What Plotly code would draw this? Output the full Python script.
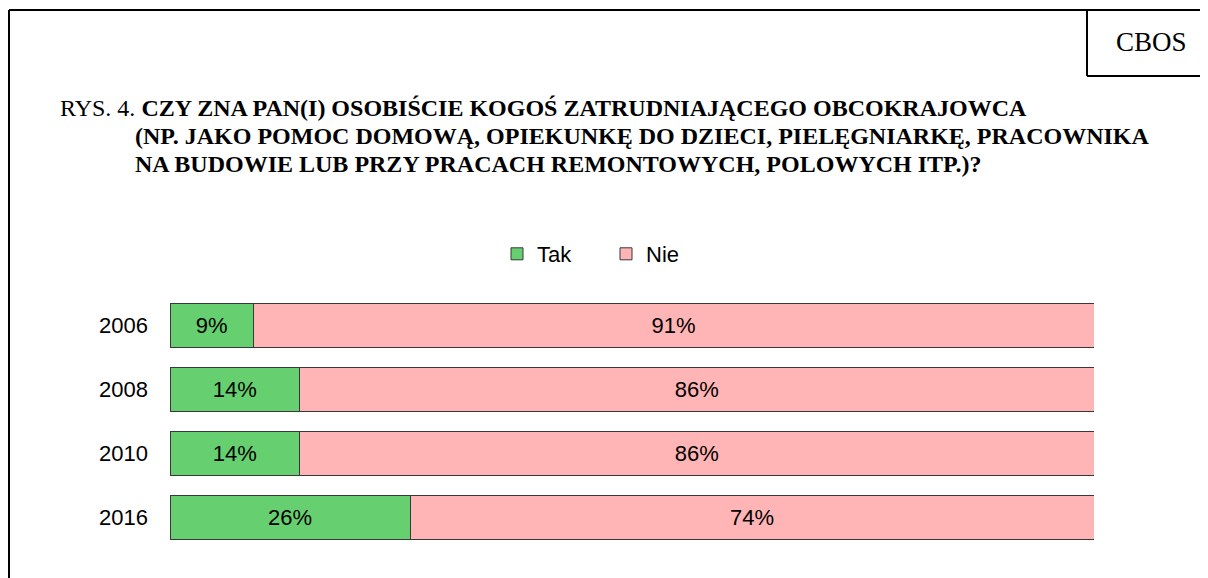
import plotly.graph_objects as go

years = ["2006", "2008", "2010", "2016"]
tak = [9, 14, 14, 26]
nie = [91, 86, 86, 74]
series_names = ["Tak", "Nie"]
colors = ["#66CF70", "#FFB5B5"]

OFF = 8  # page body margin
W, H = 1208 - OFF, 578 - OFF
L, R = 170 - OFF, 1094 - OFF
T, B = 303 - 10 - OFF, 539 + 10 - OFF

def px(x):
    return (x - OFF - L) / (R - L)

def py(y):
    return (B - (y - OFF)) / (B - T)

sans = "Arial, Liberation Sans"
fig = go.Figure()
for name, vals, col in zip(series_names, [tak, nie], colors):
    fig.add_trace(go.Bar(
        y=years, x=vals, name=name, orientation="h",
        marker=dict(color=col, line=dict(color="#383838", width=1)),
        text=[f"{v}%" for v in vals], textposition="inside",
        insidetextanchor="middle", textangle=0,
        textfont=dict(family=sans, size=22, color="#000000"),
        hoverinfo="skip",
    ))

fig.update_layout(
    width=W, height=H, barmode="stack", bargap=0.3125,
    plot_bgcolor="white", paper_bgcolor="white",
    margin=dict(l=L, r=W - R, t=T, b=H - B, pad=0),
    showlegend=True,
    legend=dict(orientation="h", x=px(497), y=py(254), xanchor="left", yanchor="middle",
                font=dict(family=sans, size=22, color="#000000"),
                traceorder="normal", itemwidth=30, entrywidth=64, entrywidthmode="pixels"),
    uniformtext=dict(mode="show", minsize=10),
)
fig.update_xaxes(range=[0, 100], visible=False, fixedrange=True)
fig.update_yaxes(categoryorder="array", categoryarray=years[::-1], showgrid=False,
                 showline=False, ticks="", ticklabelstandoff=21,
                 tickfont=dict(family=sans, size=22, color="#000000"))

# frame lines
line = dict(color="black", width=2)
fig.add_shape(type="line", xref="paper", yref="paper", x0=px(9), x1=px(1215), y0=py(10), y1=py(10), line=line)
fig.add_shape(type="line", xref="paper", yref="paper", x0=px(9), x1=px(9), y0=py(10), y1=py(590), line=line)
fig.add_shape(type="line", xref="paper", yref="paper", x0=px(1087), x1=px(1087), y0=py(10), y1=py(76), line=line)
fig.add_shape(type="line", xref="paper", yref="paper", x0=px(1087), x1=px(1215), y0=py(76), y1=py(76), line=line)

serif = "Times New Roman, Liberation Serif, serif"
fig.add_annotation(text="CBOS", xref="paper", yref="paper", x=px(1151), y=py(42),
                   xanchor="center", yanchor="middle", showarrow=False,
                   font=dict(family=serif, size=27, color="black"))
lines = [
    (58, 108, "RYS. 4. <b>CZY ZNA PAN(I) OSOBIŚCIE KOGOŚ ZATRUDNIAJĄCEGO OBCOKRAJOWCA</b>"),
    (133, 136, "<b>(NP. JAKO POMOC DOMOWĄ, OPIEKUNKĘ DO DZIECI, PIELĘGNIARKĘ, PRACOWNIKA</b>"),
    (133, 164, "<b>NA BUDOWIE LUB PRZY PRACACH REMONTOWYCH, POLOWYCH ITP.)?</b>"),
]
for x, y, t in lines:
    fig.add_annotation(text=t, xref="paper", yref="paper", x=px(x), y=py(y),
                       xanchor="left", yanchor="middle", showarrow=False,
                       font=dict(family=serif, size=24, color="black"))

fig.write_html("out.html")
